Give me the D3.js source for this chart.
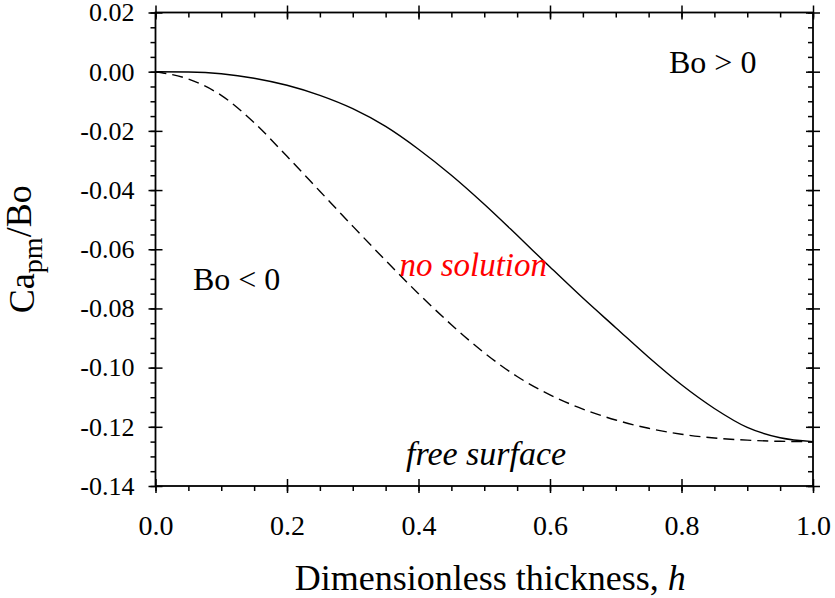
<!DOCTYPE html>
<html>
<head>
<meta charset="utf-8">
<script src="https://cdn.jsdelivr.net/npm/d3@7/dist/d3.min.js"></script>
<style>
  body { margin: 0; background: #fff; }
  svg { display: block; }
  .tk text { font-family: "Liberation Serif", "Times New Roman", serif; fill: #000; }
  .tk line { stroke: #000; stroke-width: 1.5; }
  .tk path { display: none; }
</style>
</head>
<body>
<script>
// thickness values (x)
var hVals = [0, 0.05, 0.10, 0.15, 0.20, 0.25, 0.30, 0.35, 0.40, 0.45, 0.50,
             0.55, 0.60, 0.65, 0.70, 0.75, 0.80, 0.85, 0.90, 0.95, 1.00];
// solid curve (Bo > 0 boundary)
var solidVals = [0, -0.0001, -0.0007, -0.0022, -0.0046, -0.0080, -0.0125, -0.0185,
                 -0.0262, -0.0350, -0.0448, -0.0553, -0.0660, -0.0765, -0.0865,
                 -0.0965, -0.1058, -0.1138, -0.1202, -0.1237, -0.1250];
// dashed curve (Bo < 0 boundary)
var dashedVals = [0, -0.0025, -0.0080, -0.0172, -0.0286, -0.0404, -0.0522, -0.0638,
                  -0.0750, -0.0855, -0.0950, -0.1030, -0.1092, -0.1140, -0.1177,
                  -0.1205, -0.1225, -0.1238, -0.1245, -0.1249, -0.1250];
var xTicks = [0, 0.2, 0.4, 0.6, 0.8, 1.0];
var yTicks = [0.02, 0, -0.02, -0.04, -0.06, -0.08, -0.10, -0.12, -0.14];

var margin = {top: 12.5, right: 22, bottom: 112, left: 155.5},
    width = 835 - margin.left - margin.right,
    height = 598 - margin.top - margin.bottom;

var svg = d3.select("body").append("svg")
    .attr("width", 835)
    .attr("height", 598)
  .append("g")
    .attr("transform", "translate(" + margin.left + "," + margin.top + ")");

var x = d3.scaleLinear().domain([0, 1]).range([0, width]);
var y = d3.scaleLinear().domain([-0.14, 0.02]).range([height, 0]);

var xMinor = d3.range(0, 1.0001, 0.05);
var yMinor = d3.range(-0.14, 0.02001, 0.005);

function addAxis(axis, tx, ty, labels) {
  var g = svg.append("g").attr("class", "tk")
    .attr("transform", "translate(" + tx + "," + ty + ")")
    .call(axis);
  if (!labels) g.selectAll("text").remove();
  return g;
}

// bottom
var gx = addAxis(d3.axisBottom(x).tickValues(xTicks).tickSize(7).tickPadding(10)
    .tickFormat(d3.format(".1f")), 0, height, true);
gx.selectAll("text").attr("dy", 0).attr("y", 49).style("font-size", "28px");
addAxis(d3.axisTop(x).tickValues(xTicks).tickSize(7), 0, height, false);
addAxis(d3.axisBottom(x).tickValues(xMinor).tickSize(5), 0, height, false);
// top
addAxis(d3.axisTop(x).tickValues(xTicks).tickSize(7), 0, 0, false);
addAxis(d3.axisBottom(x).tickValues(xTicks).tickSize(7), 0, 0, false);
addAxis(d3.axisBottom(x).tickValues(xMinor).tickSize(5), 0, 0, false);
// left
var gy = addAxis(d3.axisLeft(y).tickValues(yTicks).tickSize(7).tickPadding(14)
    .tickFormat(d3.format(".2f")), 0, 0, true);
gy.selectAll("text").style("font-size", "26px")
  .text(function(d) { return d3.format(".2f")(d).replace("\u2212", "-"); });
addAxis(d3.axisRight(y).tickValues(yTicks).tickSize(7), 0, 0, false);
addAxis(d3.axisLeft(y).tickValues(yMinor).tickSize(5), 0, 0, false);
// right
addAxis(d3.axisRight(y).tickValues(yTicks).tickSize(7), width, 0, false);
addAxis(d3.axisLeft(y).tickValues(yTicks).tickSize(7), width, 0, false);
addAxis(d3.axisLeft(y).tickValues(yMinor).tickSize(5), width, 0, false);

// frame
svg.append("rect")
  .attr("width", width).attr("height", height)
  .attr("fill", "none").attr("stroke", "#000").attr("stroke-width", 1.8);

var line = d3.line()
  .x(function(d, i) { return x(hVals[i]); })
  .y(function(d) { return y(d); })
  .curve(d3.curveMonotoneX);

svg.append("path").datum(solidVals)
  .attr("d", line).attr("fill", "none")
  .attr("stroke", "#000").attr("stroke-width", 1.4);

svg.append("path").datum(dashedVals)
  .attr("d", line).attr("fill", "none")
  .attr("stroke", "#000").attr("stroke-width", 1.4)
  .attr("stroke-dasharray", "11,6");

var serif = "'Liberation Serif', 'Times New Roman', serif";

function note(txt, hx, vy, italic, color, size) {
  svg.append("text")
    .attr("x", x(hx)).attr("y", y(vy))
    .style("font-family", serif)
    .style("font-size", size + "px")
    .style("font-style", italic ? "italic" : "normal")
    .attr("fill", color)
    .text(txt);
}
note("Bo > 0", 0.781, -0.00042, false, "#000", 32);
note("Bo < 0", 0.057, -0.0738, false, "#000", 32);
note("no solution", 0.371, -0.069, true, "#ff0000", 33);
note("free surface", 0.381, -0.133, true, "#000", 34);

// x title
svg.append("text")
  .attr("x", width / 2 + 6).attr("y", height + 104)
  .style("font-family", serif).style("font-size", "36px")
  .style("text-anchor", "middle")
  .text("Dimensionless thickness, ")
  .append("tspan").style("font-style", "italic").text("h");

// y title
var yt = svg.append("text")
  .attr("transform", "rotate(-90)")
  .attr("x", -height / 2).attr("y", -122)
  .style("font-family", serif).style("font-size", "36px")
  .style("text-anchor", "middle");
yt.append("tspan").text("Ca");
yt.append("tspan").attr("dy", "0.3em").style("font-size", "28px").text("pm");
yt.append("tspan").attr("dy", "-0.3em").text("/Bo");
</script>
</body>
</html>
